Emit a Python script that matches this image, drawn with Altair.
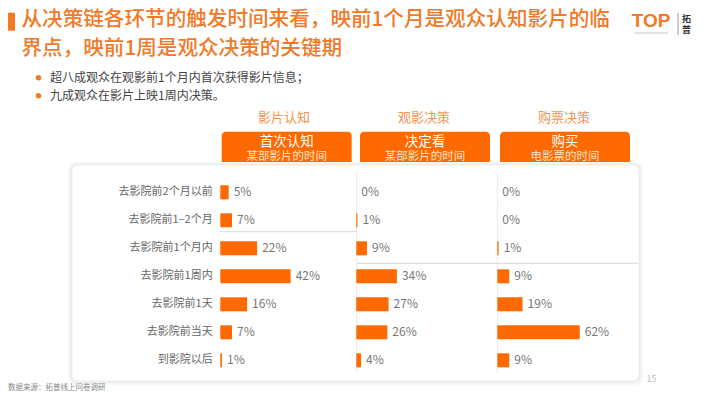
import altair as alt
import pandas as pd

# ---------------- data ----------------
categories = ["去影院前2个月以前", "去影院前1–2个月", "去影院前1个月内", "去影院前1周内",
              "去影院前1天", "去影院前当天", "到影院以后"]
stages = ["影片认知", "观影决策", "购票决策"]
aware = [5, 7, 22, 42, 16, 7, 1]
decide = [0, 1, 9, 34, 27, 26, 4]
buy = [0, 0, 1, 9, 19, 62, 9]
box_titles = ["首次认知", "决定看", "购买"]
box_subs = ["某部影片的时间", "某部影片的时间", "电影票的时间"]
title_lines = ["从决策链各环节的触发时间来看，映前1个月是观众认知影片的临",
               "界点，映前1周是观众决策的关键期"]
bullets = ["超八成观众在观影前1个月内首次获得影片信息；", "九成观众在影片上映1周内决策。"]
source_text = "数据来源：拓普线上问卷调研"
page_no = "15"

rows = []
for stage, vals in zip(stages, [aware, decide, buy]):
    for c, v in zip(categories, vals):
        rows.append({"stage": stage, "category": c, "value": v, "label": f"{v}%"})
df = pd.DataFrame(rows)
one = pd.DataFrame({"k": [0]})

# ---------------- layout (reference pixel coords, shifted by page margin) ----------------
M = 8
def X(v):
    return v - M
def Y(v):
    return v - M

FONT = "Noto Sans CJK SC"
ORANGE = "#FF6A00"
TITLE_ORANGE = "#F07A28"

baselines = [220.3, 356.3, 497.3]
px_per = [1.675, 1.195, 1.33]
box_x = [(221.7, 351.7), (360, 490), (500, 630)]
header_x = [284, 424, 564]

yscale = alt.Scale(domain=categories, range=[Y(178.3), Y(374.3)], paddingInner=0.5, paddingOuter=0.25)


def rect(x1, x2, y1, y2, **kw):
    return alt.Chart(one).mark_rect(**kw).encode(
        x=alt.value(X(x1)), x2=alt.value(X(x2)), y=alt.value(Y(y1)), y2=alt.value(Y(y2)))


def txt(s, x, y, **kw):
    kw.setdefault("font", FONT)
    return alt.Chart(one).mark_text(text=s, **kw).encode(x=alt.value(X(x)), y=alt.value(Y(y)))


def hline(x1, x2, y, color, w=1):
    return alt.Chart(one).mark_rule(color=color, strokeWidth=w).encode(
        x=alt.value(X(x1)), x2=alt.value(X(x2)), y=alt.value(Y(y)))


def vline(x, y1, y2, color):
    return alt.Chart(one).mark_rule(color=color, strokeWidth=1).encode(
        x=alt.value(X(x)), y=alt.value(Y(y1)), y2=alt.value(Y(y2)))


layers = []

# title block
layers.append(rect(3, 15, 12.7, 30.7, color="#F5791F"))
layers.append(txt(title_lines[0], 21.5, 20.3, fontSize=20.6, fontWeight=500, color=TITLE_ORANGE,
                  align="left", baseline="middle"))
layers.append(txt(title_lines[1], 21.5, 49, fontSize=20.6, fontWeight=500, color=TITLE_ORANGE,
                  align="left", baseline="middle"))

# bullets
for i, b in enumerate(bullets):
    yy = 77.7 + 18 * i
    layers.append(alt.Chart(one).mark_circle(color=TITLE_ORANGE, size=30, opacity=1).encode(
        x=alt.value(X(38.5)), y=alt.value(Y(yy))))
    layers.append(txt(b, 50, yy, fontSize=12, color="#444444", align="left", baseline="middle"))

# logo
layers.append(txt("TOP", 651, 21, fontSize=19, fontWeight="bold", color=TITLE_ORANGE,
                  align="center", baseline="middle", font="Liberation Sans"))
layers.append(hline(634, 668, 33, "#C8C8C8", 1))
layers.append(vline(678, 13, 35, "#9a9a9a"))
layers.append(txt("拓", 686.5, 19, fontSize=9, fontWeight="bold", color="#333333", align="center", baseline="middle"))
layers.append(txt("普", 686.5, 29.5, fontSize=9, fontWeight="bold", color="#333333", align="center", baseline="middle"))

# headers + orange boxes
for i in range(3):
    x1, x2 = box_x[i]
    cx = (x1 + x2) / 2
    layers.append(txt(stages[i], header_x[i], 118, fontSize=13, color="#F29450", align="center", baseline="middle"))
    layers.append(rect(x1, x2, 131.7, 168, color=ORANGE, cornerRadiusTopLeft=4, cornerRadiusTopRight=4))
    layers.append(txt(box_titles[i], cx, 141.5, fontSize=13.5, color="#FFFFFF", align="center", baseline="middle"))
    layers.append(txt(box_subs[i], cx, 157, fontSize=11.5, color="#FFE3CF", align="center", baseline="middle"))

# panel with soft shadow
layers.append(rect(68, 643, 162, 385, color="#F7F7F7", cornerRadius=8))
layers.append(rect(70, 641, 163.5, 383, color="#EEEEEE", cornerRadius=7))
layers.append(rect(72, 639, 165, 381, color="#FFFFFF", cornerRadius=6, stroke="#E8E8E8", strokeWidth=0.6))

# separators
layers.append(vline(356.7, 172, 374, "#ECECEC"))
layers.append(vline(497.3, 172, 374, "#ECECEC"))
layers.append(hline(220, 357, 231.7, "#D3D8DF"))
layers.append(hline(357, 638, 263.3, "#D3D8DF"))

# category labels
cat_df = pd.DataFrame({"category": categories})
layers.append(alt.Chart(cat_df).mark_text(align="right", baseline="middle", fontSize=11, color="#666666", font=FONT).encode(
    x=alt.value(X(212.7)),
    y=alt.Y("category:N", scale=yscale, sort=categories, axis=None),
    text="category:N"))

# bars + value labels per stage
for i, stage in enumerate(stages):
    b0 = X(baselines[i])
    xs = alt.Scale(domain=[0, 100], range=[b0, b0 + 100 * px_per[i]])
    base = alt.Chart(df).transform_filter(alt.datum.stage == stage)
    bars = base.mark_bar(color=ORANGE).encode(
        x=alt.X("value:Q", scale=xs, axis=None),
        y=alt.Y("category:N", scale=yscale, sort=categories, axis=None))
    labels = base.mark_text(align="left", baseline="middle", dx=5, fontSize=12, color="#777777", font=FONT).encode(
        x=alt.X("value:Q", scale=xs, axis=None),
        y=alt.Y("category:N", scale=yscale, sort=categories, axis=None),
        text="label:N")
    layers.append(bars)
    layers.append(labels)

# footer
layers.append(txt(source_text, 8, 388, fontSize=7.5, color="#888888", align="left", baseline="middle"))
layers.append(txt(page_no, 651.5, 379, fontSize=9, color="#BBBBBB", align="center", baseline="middle"))

chart = alt.layer(*layers).resolve_scale(x="independent").properties(
    width=694, height=383, autosize=alt.AutoSizeParams(type="none"), padding=0
).configure_view(strokeWidth=0)

chart.save("out.html", embed_options={"renderer": "svg", "actions": False})
